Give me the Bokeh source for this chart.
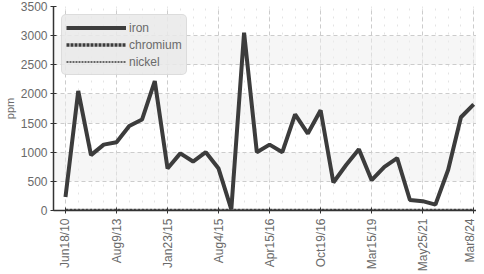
import math
from bokeh.plotting import figure
from bokeh.models import Range1d, FixedTicker, Legend, LegendItem
from bokeh.embed import file_html
from bokeh.resources import INLINE

tick_labels = ["Jun18/10", "Aug9/13", "Jan23/15", "Aug4/15", "Apr15/16",
               "Oct19/16", "Mar15/19", "May25/21", "Mar8/24"]
iron = [230, 2050, 950, 1130, 1170, 1450, 1560, 2220, 720, 980, 840, 1000,
        720, 20, 3050, 1000, 1130, 1000, 1650, 1320, 1720, 480, 780, 1050,
        520, 750, 900, 180, 160, 100, 700, 1600, 1820]
chromium = [0] * len(iron)
nickel = [0] * len(iron)
y_ticks = [0, 500, 1000, 1500, 2000, 2500, 3000, 3500]

FONT = "Liberation Sans"
TXT = "#6a6a6a"

n = len(iron)
x = list(range(n))
step = (n - 1) // (len(tick_labels) - 1)
major = [i * step for i in range(len(tick_labels))]

p = figure(width=476, height=274, output_backend="svg", toolbar_location=None,
           x_range=Range1d(-0.94, 32.22), y_range=Range1d(0, 3500),
           min_border_left=0, min_border_right=0, min_border_top=6,
           min_border_bottom=0)
p.outline_line_color = None
p.background_fill_color = "white"

r_iron = p.line(x, iron, line_color="#3c3c3c", line_width=4)
r_cr = p.line(x, chromium, line_color="#3c3c3c", line_width=3.5, line_dash="3 1")
r_ni = p.line(x, nickel, line_color="#666666", line_width=2, line_dash="2 1")

p.xaxis.ticker = FixedTicker(ticks=major, minor_ticks=x)
p.xaxis.major_label_overrides = {m: lab for m, lab in zip(major, tick_labels)}
p.xaxis.major_label_orientation = math.pi / 2
p.yaxis.ticker = FixedTicker(ticks=y_ticks)
p.yaxis.axis_label = "ppm"

for ax in (p.xaxis[0], p.yaxis[0]):
    ax.major_label_text_font = FONT
    ax.major_label_text_font_size = "12px"
    ax.major_label_text_color = TXT
    ax.axis_line_color = "#333333"
    ax.axis_line_width = 1.5
    ax.major_tick_line_color = "#333333"
    ax.major_tick_in = 3
    ax.major_tick_out = 3
    ax.minor_tick_line_color = None
    ax.axis_label_text_font = FONT
    ax.axis_label_text_font_size = "11px"
    ax.axis_label_text_font_style = "normal"
    ax.axis_label_text_color = TXT
p.yaxis.axis_label_standoff = 2
p.yaxis.major_label_standoff = 3
p.xaxis.major_label_standoff = 4

p.ygrid.grid_line_color = "#cccccc"
p.ygrid.grid_line_dash = "4 3"
p.ygrid.band_fill_color = "#eeeeee"
p.ygrid.band_fill_alpha = 0.5
p.xgrid.grid_line_color = "#cccccc"
p.xgrid.grid_line_dash = "4 3"
p.xgrid.minor_grid_line_color = "#e4e4e4"
p.xgrid.minor_grid_line_dash = "2 6"

legend = Legend(items=[LegendItem(label="iron", renderers=[r_iron]),
                       LegendItem(label="chromium", renderers=[r_cr]),
                       LegendItem(label="nickel", renderers=[r_ni])],
                location="top_left")
legend.label_text_font = FONT
legend.label_text_font_size = "12px"
legend.label_text_color = TXT
legend.glyph_width = 60
legend.glyph_height = 17
legend.label_height = 17
legend.spacing = 0
legend.padding = 4
legend.margin = 8
legend.label_standoff = 3
legend.background_fill_color = "#e9e9e9"
legend.background_fill_alpha = 0.85
legend.border_line_color = "#cccccc"
legend.border_radius = 5
p.add_layout(legend)

open("out.html", "w").write(file_html(p, INLINE))
